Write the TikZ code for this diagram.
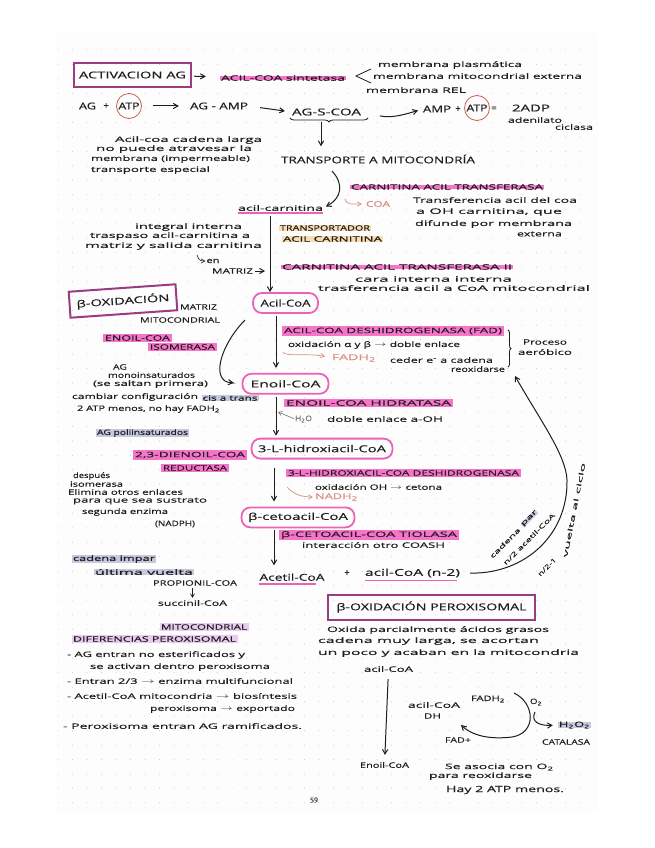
\documentclass[tikz,border=0pt]{standalone}
\usepackage{fontspec}
\usepackage{graphicx}
\setmainfont{Open Sans}[FakeBold=0.25]
\usetikzlibrary{arrows, positioning, decorations.pathreplacing}
\definecolor{ink}{HTML}{1E1E1E}
\definecolor{hlpink}{HTML}{F874CA}
\definecolor{pillpink}{HTML}{EE62B6}
\definecolor{boxpurple}{HTML}{9C3C80}
\definecolor{hookred}{HTML}{DB8F86}
\definecolor{circred}{HTML}{C8604F}
\definecolor{hlgrey}{HTML}{C6C9DE}
\definecolor{hlorange}{HTML}{F9DDB0}
\definecolor{hlpurple}{HTML}{E8CBEF}
\definecolor{hlyellow}{HTML}{FBF7D2}
\newsavebox{\fitbox}
\newcommand{\fitx}[2]{\sbox{\fitbox}{#2}\pgfmathsetmacro{\fitratio}{#1/\the\wd\fitbox}\scalebox{\fitratio}[1]{\usebox{\fitbox}}}
\tikzset{
  note/.style={font=\fontsize{7.5}{9}\selectfont, text=ink, inner sep=0pt},
  turned/.style={font=\fontsize{6.2}{7}\selectfont, text=ink, inner sep=0pt},
  bigtxt/.style={font=\fontsize{9.5}{12}\selectfont, text=ink, inner sep=0pt},
  hl/.style={note, fill=hlpink, inner xsep=2pt, inner ysep=1.5pt},
  hlthin/.style={note, fill=hlpink, inner xsep=1pt, inner ysep=-0.3pt},
  hlg/.style={note, fill=hlgrey, inner xsep=1pt, inner ysep=0pt},
  hlo/.style={note, fill=hlorange, inner xsep=1pt, inner ysep=0pt},
  hlp/.style={note, fill=hlpurple, inner xsep=1.5pt, inner ysep=1pt},
  pill/.style={bigtxt, draw=pillpink, line width=1.8pt, rounded corners=9pt, minimum height=20pt},
  titlebox/.style={bigtxt, draw=boxpurple, line width=2pt},
  ringed/.style={bigtxt, draw=circred, line width=0.8pt, circle, inner sep=0pt, minimum size=25pt},
  redtxt/.style={font=\fontsize{8}{9}\selectfont, text=hookred, inner sep=0pt},
  arr/.style={->, >=angle 60, draw=ink, line width=1pt},
  hook/.style={->, >=angle 60, draw=hookred, line width=0.7pt},
  under/.style={draw=pillpink, line width=1.6pt}
}
\begin{document}
\begin{tikzpicture}[x=1pt, y=-1pt]
  \useasboundingbox (0,0) rectangle (655,848);
  \fill[black!0.7] (57,33) rectangle (598,813);
  \foreach \i in {0,...,36}
    \foreach \j in {0,...,52}
      \fill[black!22] (58+14.5*\i,50+14.48*\j) circle (0.5pt);

  \node[titlebox, minimum width=117pt, minimum height=24pt] (acti) at (132.5,75) {\fitx{107}{ACTIVACION AG}};
  \node[hlthin] (sint) at (283,78) {\fitx{124}{ACIL-COA sintetasa}};
  \node[note] (mplas) at (450,65) {\fitx{144}{membrana plasmática}};
  \node[note] (mmit) at (477.5,76) {\fitx{209}{membrana mitocondrial externa}};
  \node[note] (mrel) at (416,90) {\fitx{100}{membrana REL}};
  \draw[arr, shorten <=2pt, shorten >=14pt] (acti) -- (sint);
  \coordinate (memtip) at (356,76);
  \draw[ink, line width=0.8pt] (371,69) -- (memtip) -- (371,83);

  \node[bigtxt] (ag) at (87.5,106) {\fitx{17}{AG}};
  \node[bigtxt, right=7pt of ag] (plusa) {+};
  \node[ringed] (atpa) at (129,106) {\fitx{21}{ATP}};
  \node[bigtxt] (agamp) at (219,106) {\fitx{58}{AG - AMP}};
  \node[bigtxt] (agscoa) at (326.5,112) {\fitx{69}{AG-S-COA}};
  \node[bigtxt] (ampa) at (437,109) {\fitx{28}{AMP}};
  \node[bigtxt] (plusb) at (458,109) {+};
  \node[ringed] (atpb) at (477,108) {\fitx{21}{ATP}};
  \node[bigtxt] (eqa) at (494,109) {=};
  \node[bigtxt] (adp) at (531,108) {\fitx{38}{2ADP}};
  \node[note] (adenil) at (535,120) {\fitx{54}{adenilato}};
  \node[note] (cicla) at (574,127) {\fitx{38}{ciclasa}};
  \draw[arr, shorten <=11pt, shorten >=11pt] (atpa) -- (agamp);
  \draw[arr, shorten <=12pt, shorten >=7pt] (agamp.east) -- (agscoa.west);
  \draw[arr, shorten <=19pt, shorten >=5pt] (agscoa.east) .. controls (390,118) and (400,116) .. (ampa.west);
  \draw[ink, line width=0.8pt, decorate, decoration={brace, amplitude=4pt}] (368,118) -- (290,118);

  \node[note] (noa) at (188.5,140) {\fitx{147}{Acil-coa cadena larga}};
  \node[note] (nob) at (174,149) {\fitx{156}{no puede atravesar la}};
  \node[note] (noc) at (170.5,159) {\fitx{159}{membrana (impermeable)}};
  \node[note] (nod) at (150.5,170) {\fitx{119}{transporte especial}};
  \node[bigtxt] (transp) at (378,159) {\fitx{194}{TRANSPORTE A MITOCONDRÍA}};
  \coordinate (bracex) at (321,0);
  \draw[arr, shorten <=6pt, shorten >=8pt] (agscoa.south -| bracex) -- (transp.north -| bracex);

  \node[hlthin] (cat) at (447,187) {\fitx{192}{CARNITINA ACIL TRANSFERASA}};
  \node[redtxt] (coared) at (378,204) {\fitx{24}{COA}};
  \coordinate (coahook) at (345,199);
  \draw[hook, shorten >=4pt] (coahook) .. controls (346,205) and (352,204) .. (coared.west);
  \node[note] (trfa) at (495,200) {\fitx{164}{Transferencia acil del coa}};
  \node[note] (trfb) at (489,212) {\fitx{146}{a OH carnitina, que}};
  \node[note] (trfc) at (493.5,224) {\fitx{157}{difunde por membrana}};
  \node[note] (trfd) at (539.5,234) {\fitx{45}{externa}};
  \node[note] (acam) at (280.5,208) {\fitx{85}{acil-carnitina}};
  \draw[under] ([yshift=-2pt]acam.south west) -- ([yshift=-2pt]acam.south east);
  \coordinate (bendstart) at (332,171);
  \draw[arr, shorten >=3pt] (bendstart) .. controls (344,184) and (342,198) .. (acam.east);

  \node[hlo] (tpa) at (325,228) {\fitx{90}{TRANSPORTADOR}};
  \node[hlo] (tpb) at (332.5,239) {\fitx{99}{ACIL CARNITINA}};
  \node[note] (ina) at (188.5,227) {\fitx{107}{integral interna}};
  \node[note] (inb) at (170,236) {\fitx{160}{traspaso acil-carnitina a}};
  \node[note] (inc) at (173.5,246) {\fitx{177}{matriz y salida carnitina}};
  \node[note] (ena) at (213,261) {\fitx{13}{en}};
  \coordinate (enhook) at (197,255);
  \draw[->, >=angle 60, draw=ink, line width=0.6pt, shorten >=1pt] (enhook) .. controls (199,261) and (201,261) .. (ena.west);
  \node[note] (matriza) at (232.5,271) {\fitx{41}{MATRIZ}};
  \node[hlthin] (catb) at (397,267) {\fitx{230}{CARNITINA ACIL TRANSFERASA II}};
  \node[note] (cara) at (433.5,279) {\fitx{157}{cara interna interna}};
  \node[note] (trsa) at (454,288) {\fitx{272}{trasferencia acil a CoA mitocondrial}};

  \node[pill, minimum width=65pt] (acoa) at (285.5,303) {\fitx{50}{Acil-CoA}};
  \node[pill, below=59pt of acoa, minimum width=86pt] (enoil) {\fitx{70}{Enoil-CoA}};
  \node[pill, below=43pt of enoil, xshift=36.5pt, minimum width=141pt] (hidrox) {\fitx{128}{3-L-hidroxiacil-CoA}};
  \node[pill, below=47pt of hidrox, xshift=-24pt, minimum width=113pt] (cetoa) {\fitx{100}{β-cetoacil-CoA}};
  \node[bigtxt, below=45pt of cetoa, xshift=-6pt] (acet) {\fitx{65}{Acetil-CoA}};
  \node[bigtxt] (plusc) at (347,573) {+};
  \node[bigtxt] (acnd) at (412.5,573) {\fitx{95}{acil-CoA (n-2)}};
  \draw[under] ([yshift=-3pt]acet.south west) -- ([xshift=-9pt, yshift=-3pt]acet.south east);
  \draw[under] ([yshift=-3pt]acnd.south west) -- ([xshift=-3pt, yshift=-3pt]acnd.south east);

  \coordinate (topx) at (270,0);
  \coordinate (flowx) at (276,0);
  \coordinate (lowx) at (274,0);
  \draw[arr, shorten <=5pt] (acam.south -| topx) -- (acoa.north -| topx);
  \draw[arr, shorten <=2pt, shorten >=5pt] (matriza.east) -- (matriza.east -| topx);
  \draw[arr, shorten <=2pt, shorten >=5pt] (acoa.south -| flowx) -- (enoil.north -| flowx);
  \draw[arr, shorten <=2pt, shorten >=2pt] (enoil.south -| flowx) -- (hidrox.north -| flowx);
  \draw[arr, shorten <=8pt, shorten >=5pt] (hidrox.south -| lowx) -- (cetoa.north -| lowx);
  \draw[arr, shorten <=2pt, shorten >=8pt] (cetoa.south -| lowx) -- (acet.north -| lowx);

  \node[titlebox, rotate=4, minimum width=107pt, minimum height=26pt] (boxb) at (123,301) {\fitx{93}{β-OXIDACIÓN}};
  \node[note] (mata) at (198.5,307) {\fitx{37}{MATRIZ}};
  \node[note] (matb) at (180,320) {\fitx{80}{MITOCONDRIAL}};
  \node[hl] (isoa) at (137.5,338) {\fitx{65}{ENOIL-COA}};
  \node[hl] (isob) at (182.5,347) {\fitx{65}{ISOMERASA}};
  \coordinate (isostart) at (245,320);
  \draw[arr, shorten >=8pt] (isostart) .. controls (225,340) and (212,372) .. (225,381) .. controls (228,383) and (235,383) .. (enoil.west);

  \node[note] (moa) at (120,367) {\fitx{14}{AG}};
  \node[note] (mob) at (151.5,375) {\fitx{87}{monoinsaturados}};
  \node[note] (moc) at (150.5,384) {\fitx{115}{(se saltan primera)}};
  \node[note] (mod) at (135,397) {\fitx{126}{cambiar configuración}};
  \node[hlg] (moe) at (230,398) {\fitx{55}{cis a trans}};
  \node[note] (mof) at (148.5,409) {\fitx{143}{2 ATP menos, no hay FADH\textsubscript{2}}};
  \node[hlg] (poli) at (142.5,433) {\fitx{91}{AG poliinsaturados}};
  \node[hl] (diea) at (190,455) {\fitx{110}{2,3-DIENOIL-COA}};
  \node[hl] (dieb) at (195,468) {\fitx{64}{REDUCTASA}};
  \node[note] (dea) at (91.5,476) {\fitx{37}{después}};
  \node[note] (deb) at (96.5,484) {\fitx{53}{isomerasa}};
  \node[note] (dec) at (125.5,492) {\fitx{115}{Elimina otros enlaces}};
  \node[note] (ded) at (140,501) {\fitx{134}{para que sea sustrato}};
  \node[note] (dee) at (125,512) {\fitx{86}{segunda enzima}};
  \node[note] (def) at (175,524) {\fitx{40}{(NADPH)}};
  \node[hlg] (impa) at (114,559) {\fitx{82}{cadena impar}};
  \node[hlg] (impb) at (144,572) {\fitx{98}{última vuelta}};
  \node[note] (prop) at (195,583) {\fitx{84}{PROPIONIL-COA}};
  \node[note] (succ) at (192.5,603) {\fitx{69}{succinil-CoA}};
  \draw[->, >=angle 60, draw=ink, line width=0.6pt, shorten <=2pt, shorten >=2pt] (prop.south -| succ.north) -- (succ.north);

  \node[hl] (deha) at (393,331) {\fitx{218}{ACIL-COA DESHIDROGENASA (FAD)}};
  \node[note] (dehb) at (374,345) {\fitx{172}{oxidación α y β $\to$ doble enlace}};
  \coordinate (fadhook) at (283,352);
  \node[redtxt] (fadred) at (354,358) {\fitx{44}{FADH\textsubscript{2}}};
  \draw[hook, shorten >=7pt] (fadhook) .. controls (284,357) and (310,353) .. (fadred.west);
  \node[note] (dehc) at (441.5,360) {\fitx{103}{ceder e\textsuperscript{-} a cadena}};
  \node[note] (dehd) at (478,369) {\fitx{54}{reoxidarse}};
  \draw[ink, line width=0.8pt, decorate, decoration={brace, amplitude=3pt}] (508,330) -- (508,367);
  \node[note] (proa) at (545,342) {\fitx{44}{Proceso}};
  \node[note] (prob) at (545,352) {\fitx{54}{aeróbico}};

  \node[hl] (hid) at (368.5,403) {\fitx{165}{ENOIL-COA HIDRATASA}};
  \coordinate (waterhook) at (278,412);
  \node[note, text=black!55] (water) at (303.5,419) {\fitx{17}{H\textsubscript{2}O}};
  \draw[<-, >=angle 60, draw=black!55, line width=0.6pt, shorten >=1pt] (waterhook) -- (water.west);
  \node[note] (dobl) at (385,419) {\fitx{116}{doble enlace a-OH}};

  \node[hl] (hdh) at (403.5,473) {\fitx{231}{3-L-HIDROXIACIL-COA DESHIDROGENASA}};
  \node[note] (hdha) at (378.5,487) {\fitx{127}{oxidación OH $\to$ cetona}};
  \coordinate (nadhook) at (287,487);
  \node[redtxt] (nadred) at (336.5,497) {\fitx{43}{NADH\textsubscript{2}}};
  \draw[hook, shorten >=2pt] (nadhook) .. controls (294,495) and (303,497) .. (nadred.west);
  \node[hl] (tiol) at (369,535) {\fitx{176}{β-CETOACIL-COA TIOLASA}};
  \node[note] (tiolb) at (373.5,545) {\fitx{143}{interacción otro COASH}};

  \coordinate (cycletip) at (515,376);
  \draw[arr, shorten <=10pt] (acnd.east) .. controls (525,574) and (568,535) .. (567,480) .. controls (566,455) and (540,420) .. (cycletip);
  \node[turned, rotate=45] (cadp) at (505,543) {\fitx{40}{cadena}};
  \node[turned, fill=hlgrey, rotate=45] (parp) at (529.5,518.5) {\fitx{20}{par}};
  \node[turned, rotate=45] (nace) at (529,539) {\fitx{70}{n/2 acetil-CoA}};
  \node[turned, rotate=45] (nuno) at (547,567) {\fitx{23}{n/2-1}};
  \node[turned, rotate=79] (nvue) at (574,510) {\fitx{96}{vuelta al ciclo}};

  \node[hlp] (mitod) at (204,627) {\fitx{86}{MITOCONDRIAL}};
  \node[hlp] (difa) at (154.5,639) {\fitx{163}{DIFERENCIAS PEROXISOMAL}};
  \node[note] (lia) at (156,655) {\fitx{178}{- AG entran no esterificados y}};
  \node[note] (lib) at (180,667) {\fitx{180}{se activan dentro peroxisoma}};
  \node[note] (lic) at (180,681) {\fitx{226}{- Entran 2/3 $\to$ enzima multifuncional}};
  \node[note] (lid) at (182,696) {\fitx{230}{- Acetil-CoA mitocondria $\to$ biosíntesis}};
  \node[note] (lie) at (222.5,709) {\fitx{145}{peroxisoma $\to$ exportado}};
  \node[note] (lif) at (182.5,726) {\fitx{239}{- Peroxisoma entran AG ramificados.}};
  \node[font=\fontsize{7}{8}\selectfont, text=black!70, inner sep=0pt] (pagen) at (314,800) {59};

  \node[titlebox, minimum width=207pt, minimum height=25pt] (boxp) at (431.5,607) {\fitx{190}{β-OXIDACIÓN PEROXISOMAL}};
  \node[note] (oxa) at (438,630) {\fitx{222}{Oxida parcialmente ácidos grasos}};
  \node[note] (oxb) at (428.5,641) {\fitx{221}{cadena muy larga, se acortan}};
  \node[note] (oxc) at (448.5,653) {\fitx{261}{un poco y acaban en la mitocondria}};
  \node[note] (pera) at (388.5,669) {\fitx{49}{acil-CoA}};
  \node[note] (perb) at (384.5,765) {\fitx{49}{Enoil-CoA}};
  \draw[arr, shorten <=7pt, shorten >=7pt] (pera) -- (perb);
  \node[note] (dha) at (434,705) {\fitx{52}{acil-CoA}};
  \node[note] (dhb) at (432.5,716) {\fitx{17}{DH}};
  \node[note] (fadh) at (488,699) {\fitx{34}{FADH\textsubscript{2}}};
  \node[note] (fadp) at (458,740) {\fitx{26}{FAD+}};
  \node[note] (oxy) at (536,702) {\fitx{12}{O\textsubscript{2}}};
  \node[hlg] (peroxi) at (574.5,725) {\fitx{31}{H\textsubscript{2}O\textsubscript{2}}};
  \node[note] (catal) at (566,742) {\fitx{48}{CATALASA}};
  \coordinate (cycstart) at (514,693);
  \coordinate (cycend) at (461,725);
  \coordinate (oxstart) at (535,712);
  \draw[arr] (cycstart) .. controls (535,703) and (537,733) .. (512,737) .. controls (495,739) and (475,738) .. (cycend);
  \draw[arr, shorten >=5pt] (oxstart) .. controls (530,722) and (540,726) .. (peroxi.west);
  \node[note] (sea) at (499.5,767) {\fitx{109}{Se asocia con O\textsubscript{2}}};
  \node[note] (seb) at (480.5,776) {\fitx{103}{para reoxidarse}};
  \node[bigtxt, font=\fontsize{8.5}{10}\selectfont] (sec) at (505,790) {\fitx{118}{Hay 2 ATP menos.}};
\end{tikzpicture}
\end{document}
